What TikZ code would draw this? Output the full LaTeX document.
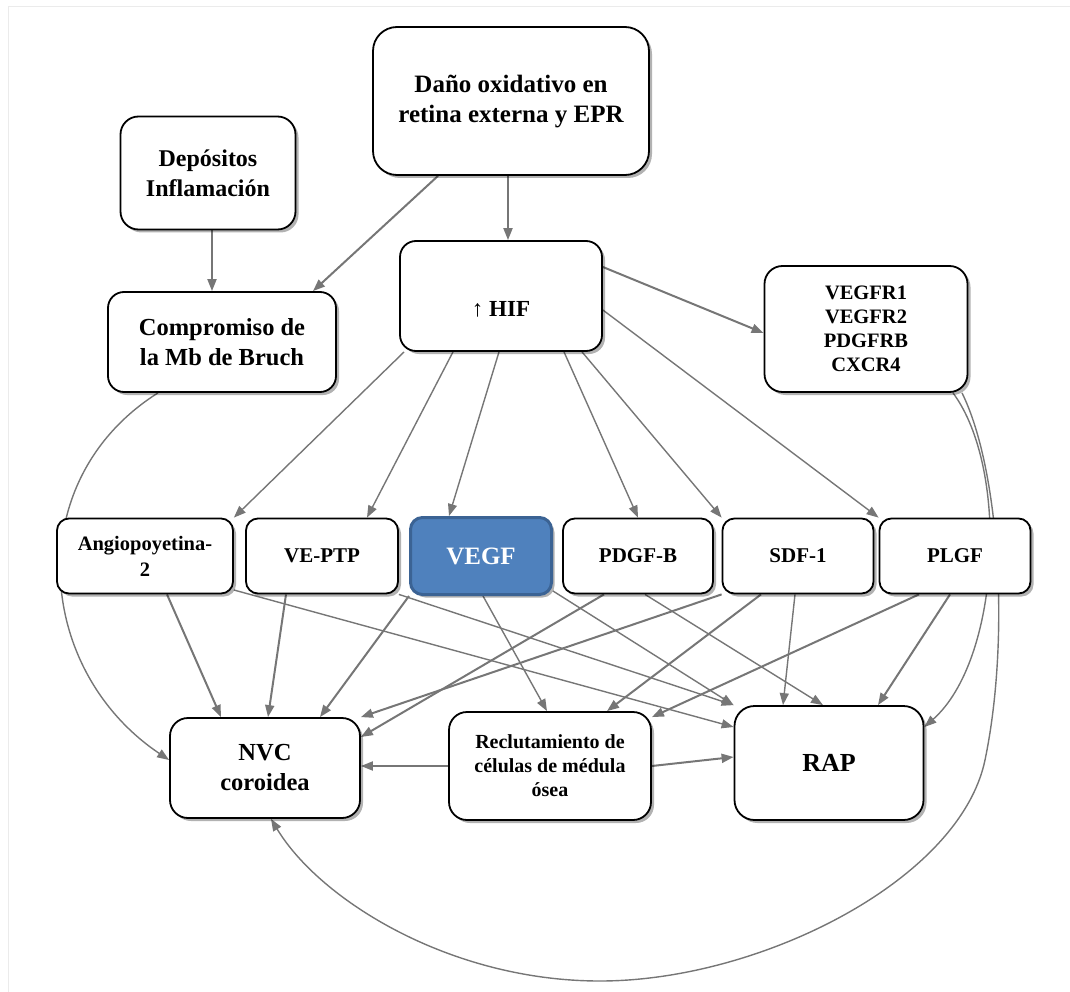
\documentclass[tikz,border=0pt]{standalone}
\usepackage{fontspec}
\setmainfont{Liberation Serif}
\usetikzlibrary{arrows.meta,shadows,calc}
\pgfdeclarelayer{bg}
\pgfsetlayers{bg,main}
\definecolor{edgegray}{HTML}{767676}
\definecolor{vfill}{HTML}{4F81BD}
\definecolor{vdraw}{HTML}{3B6394}
\definecolor{framegray}{HTML}{EBEBEB}
\newcommand{\fsz}[2]{\fontsize{#1}{#2}\selectfont\bfseries}
\begin{document}
\begin{tikzpicture}[x=1pt,y=-1pt,
  box/.style={draw=black, line width=1.8pt, fill=white, align=center, inner sep=0pt,
    rounded corners=#1,
    drop shadow={shadow xshift=3pt, shadow yshift=-3pt, opacity=0.3, fill=black}},
  box/.default=14pt,
  conn/.style={draw=edgegray, line width=1.4pt, -{Triangle[length=12pt,width=9pt]}},
  connb/.style={conn, line width=2pt},
]
\useasboundingbox (0,0) rectangle (1070,992);

% nodes
\node[box=24pt, minimum width=276pt, minimum height=148pt, font=\fsz{25}{30}] (dano) at (511,101)
  {\rule{0pt}{12pt}Daño oxidativo en\\retina externa y EPR};
\node[box=18pt, minimum width=175pt, minimum height=113pt, font=\fsz{24}{30}] (depo) at (208,173)
  {Depósitos\\Inflamación};
\node[box=16pt, minimum width=228pt, minimum height=100pt, font=\fsz{24.5}{30}] (comp) at (222,342)
  {Compromiso de\\la Mb de Bruch};
\node[box=16pt, minimum width=202pt, minimum height=110pt, text height=40pt, text depth=0pt, font=\fsz{23}{26}] (hif) at (501,296)
  {{\mdseries ↑} HIF};
\node[box=18pt, minimum width=203pt, minimum height=126pt, font=\fsz{20.5}{24}] (vegfr) at (866,329)
  {VEGFR1\\VEGFR2\\PDGFRB\\CXCR4};

\node[box=12pt, minimum width=176pt, minimum height=75pt, font=\fsz{20.5}{26}] (angio) at (145,556)
  {Angiopoyetina-\\2};
\node[box=12pt, minimum width=152pt, minimum height=75pt, font=\fsz{21}{24}] (veptp) at (322,556)
  {VE-PTP};
\node[box=12pt, minimum width=141pt, minimum height=77pt, fill=vfill, draw=vdraw, line width=3pt, text=white, font=\fsz{25}{28}] (vegf) at (481,556)
  {VEGF};
\node[box=12pt, minimum width=150pt, minimum height=75pt, font=\fsz{21}{24}] (pdgfb) at (638,556)
  {PDGF-B};
\node[box=12pt, minimum width=151pt, minimum height=75pt, font=\fsz{21}{24}] (sdf) at (798,556)
  {SDF-1};
\node[box=12pt, minimum width=151pt, minimum height=75pt, font=\fsz{21}{24}] (plgf) at (955,556)
  {PLGF};

\node[box=18pt, minimum width=190pt, minimum height=100pt, font=\fsz{24.5}{30}] (nvc) at (265,768)
  {NVC\\coroidea};
\node[box=18pt, minimum width=202pt, minimum height=108pt, font=\fsz{20}{24}] (recl) at (550,766)
  {Reclutamiento de\\células de médula\\ósea};
\node[box=20pt, minimum width=189pt, minimum height=114pt, font=\fsz{26}{30}] (rap) at (829,763)
  {RAP};

\begin{pgfonlayer}{bg}
\draw[framegray, line width=1pt] (8,992) -- (8,7) -- (1070,7);

\draw[connb] ([xshift=-3pt]dano.south) -- ([xshift=7pt]hif.north);
\draw[connb] ([xshift=-73pt]dano.south) -- ([xshift=91pt]comp.north);
\draw[connb] ([xshift=4pt]depo.south) -- ([xshift=-10pt]comp.north);
\draw[connb] ([yshift=29pt]hif.east) -- ([yshift=-4pt]vegfr.west);

\draw[conn] ([xshift=5pt]hif.south west) -- (angio.north east);
\draw[conn] ([xshift=-48pt]hif.south) -- ([xshift=45pt]veptp.north);
\draw[conn] ([xshift=-2pt]hif.south) -- ([xshift=-32pt]vegf.north);
\draw[conn] ([xshift=63pt]hif.south) -- (pdgfb.north);
\draw[conn] ([xshift=81pt]hif.south) -- (sdf.north west);
\draw[conn] ([yshift=-14pt]hif.east) -- (plgf.north west);

\draw[connb] ([xshift=22pt]angio.south) -- ([xshift=-44pt]nvc.north);
\draw[conn] ([yshift=-34pt]angio.east) -- ([yshift=36pt]rap.west);
\draw[connb] ([xshift=-36pt]veptp.south) -- ([xshift=3pt]nvc.north);
\draw[conn] (veptp.south east) -- (rap.north west);
\draw[connb] (vegf.south west) -- ([xshift=55pt]nvc.north);
\draw[conn] ([xshift=2pt]vegf.south) -- ([xshift=-3pt]recl.north);
\draw[conn] ([yshift=5pt]vegf.south east) -- (rap.north west);
\draw[connb] ([xshift=-34pt]pdgfb.south) -- ([yshift=31pt]nvc.east);
\draw[conn] ([xshift=7pt]pdgfb.south) -- ([xshift=-6pt]rap.north);
\draw[connb] (sdf.south west) -- (nvc.north east);
\draw[connb] ([xshift=-37pt]sdf.south) -- ([xshift=57pt]recl.north);
\draw[conn] ([xshift=-3pt]sdf.south) -- ([xshift=-46pt]rap.north);
\draw[connb] ([xshift=-36pt]plgf.south) -- ([yshift=-6pt]recl.north east);
\draw[connb] ([xshift=-5pt]plgf.south) -- ([xshift=49pt]rap.north);
\draw[connb] (recl.west) -- (nvc.east |- recl.west);
\draw[connb] (recl.east) -- ([yshift=6pt]rap.west);

\draw[conn] ([xshift=87pt]vegfr.south) .. controls (1010,470) and (1000,660) .. ([yshift=36pt]rap.east);
\draw[conn] ([xshift=96pt]vegfr.south) .. controls (1000,470) and (1010,640) .. (985,760)
  .. controls (960,880) and (760,981) .. (600,981)
  .. controls (450,981) and (320,900) .. ([xshift=6pt]nvc.south);
\draw[conn] ([xshift=-64pt]comp.south) .. controls (20,480) and (35,670) .. ([yshift=8pt]nvc.west);
\end{pgfonlayer}
\end{tikzpicture}
\end{document}
